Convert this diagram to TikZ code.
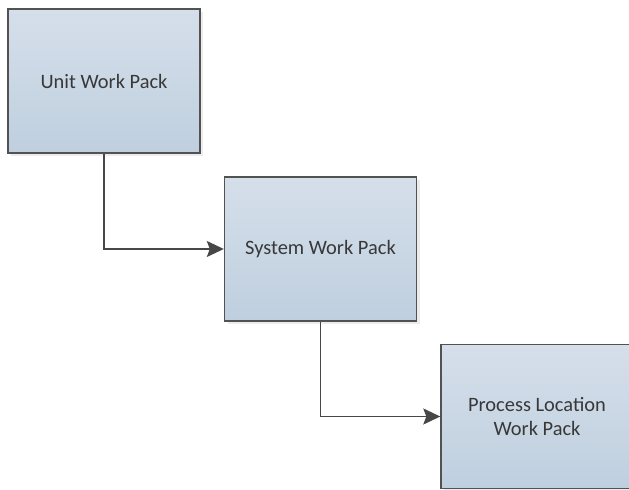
\documentclass[tikz,border=0pt]{standalone}
\usepackage{fontspec}
\setmainfont{Carlito}
\usetikzlibrary{shadows,arrows.meta}
\begin{document}
\begin{tikzpicture}[x=1bp,y=-1bp,
  wpbox/.style={draw=black!68, line width=1.4bp, top color=topc, bottom color=botc,
    minimum width=192bp, minimum height=144bp, inner sep=0pt, align=center,
    font=\fontsize{20.5}{24}\selectfont, text=black!78,
    drop shadow={shadow xshift=3bp, shadow yshift=-3bp, fill=black!12, opacity=0.6}},
  conn/.style={draw=black!72, line width=1.4bp, -{Stealth[length=17bp,width=16bp,inset=3bp]}}]
\definecolor{topc}{HTML}{D5DFEA}
\definecolor{botc}{HTML}{BFCFDF}
\useasboundingbox (0,0) rectangle (629,490);
\node[wpbox] (unit) at (104,81) {Unit Work Pack};
\node[wpbox] (sys) at (320.5,249) {System Work Pack};
\node[wpbox] (proc) at (537,416.5) {Process Location\\Work Pack};
\draw[conn] (unit.south) |- (sys.west);
\draw[conn] (sys.south) |- (proc.west);
\end{tikzpicture}
\end{document}
